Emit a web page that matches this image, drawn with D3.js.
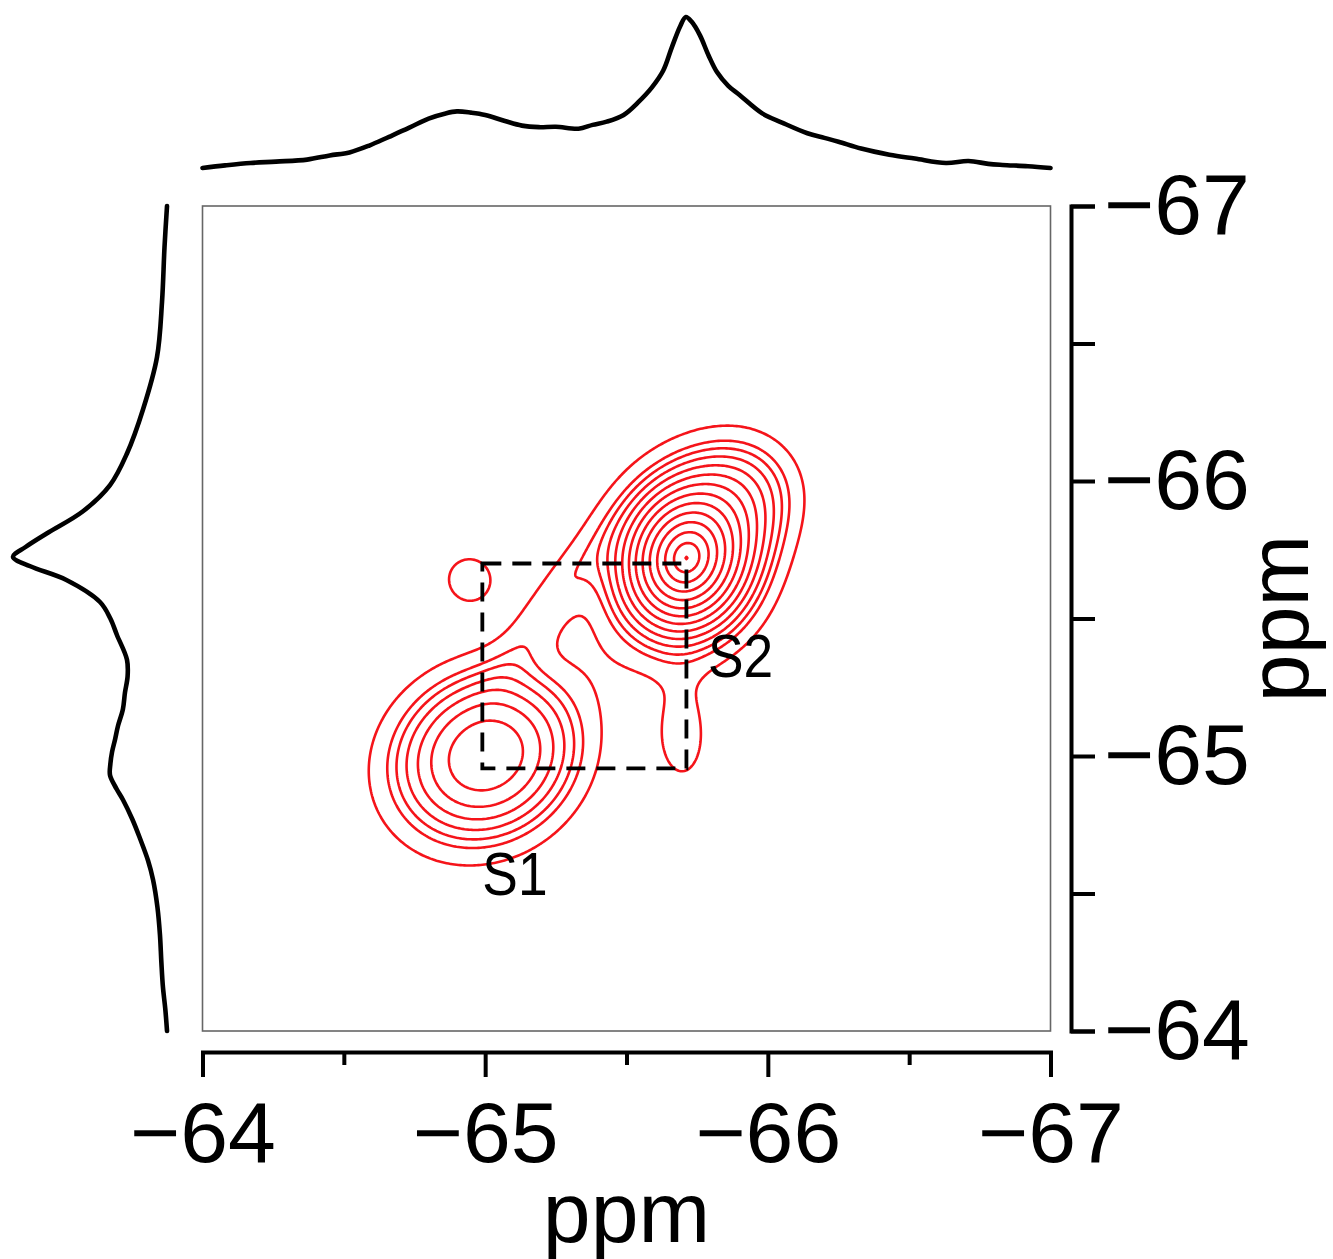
<!DOCTYPE html>
<html><head><meta charset="utf-8">
<script src="https://cdn.jsdelivr.net/npm/d3@7"></script>
<style>
body{margin:0;background:#fff}
svg{display:block;background:#fff}
</style>
</head><body>
<svg id="chart" width="1333" height="1259"></svg>
<script>
// ---------------- data ----------------
const xMajorTicks = [-64, -65, -66, -67];
const xMinorTicks = [-64.5, -65.5, -66.5];
const yMajorTicks = [-67, -66, -65, -64];
const yMinorTicks = [-66.5, -65.5, -64.5];
const axisTitle = "ppm";

// top (horizontal) 1D projection
const topPpm = [-64.00,-64.08,-64.17,-64.26,-64.37,-64.45,-64.52,-64.59,-64.66,-64.73,-64.80,-64.86,-64.90,-64.95,-65.00,-65.07,-65.13,-65.19,-65.25,-65.33,-65.38,-65.43,-65.49,-65.54,-65.59,-65.63,-65.66,-65.69,-65.71,-65.73,-65.76,-65.79,-65.82,-65.86,-65.90,-65.98,-66.05,-66.14,-66.20,-66.25,-66.33,-66.43,-66.52,-66.63,-66.71,-66.78,-66.83,-66.92,-67.00];
const topInt = [1.3,3.0,4.6,5.5,6.8,9.5,11.5,16,21.7,27.5,33.6,37,38.3,37.5,36,32,29,28,28.3,27,29.5,31.6,36,44,54,65,80,94,100,97,88,75,64,55,49,37,31,24,21,18.5,14,10,7.5,4.6,5.9,4,3.3,2.5,1.3];

// left (vertical) 1D projection
const leftPpm = [-67.00,-66.85,-66.65,-66.45,-66.26,-66.10,-65.985,-65.89,-65.81,-65.76,-65.724,-65.69,-65.64,-65.56,-65.50,-65.44,-65.35,-65.29,-65.23,-65.17,-65.11,-65.06,-65.015,-64.97,-64.93,-64.88,-64.84,-64.77,-64.70,-64.62,-64.55,-64.45,-64.35,-64.25,-64.16,-64.08,-64.00];
const leftInt = [1.9,3.5,5.1,8.3,17.2,27.4,38.2,55.4,78.3,92,100,89,66,44.6,38,33.8,27.4,27,28.7,30,33.1,35,36.9,38,38.2,34,29.9,24,19.1,14,10.8,8,6.4,5.5,4.5,3,1.9];

const peakNames = ["S1", "S1 pedestal", "S2", "S2 shoulder", "bridge", "island", "lower lobe"];
const peakX     = [-65.010, -64.893, -65.712, -65.930, -65.229, -64.943, -65.700];
const peakY     = [-65.007, -64.895, -65.720, -65.985, -65.567, -65.647, -65.051];
const peakWu    = [0.234, 0.320, 0.114, 0.160, 0.195, 0.082, 0.138];
const peakWv    = [0.205, 0.320, 0.094, 0.160, 0.066, 0.082, 0.074];
const peakAngle = [35, 0, 75, 0, 57, 0, 90];
const peakShape = [2, 2, 1.25, 2, 2, 2, 2];
const peakAmp   = [3.12, 0.42, 10.7, 1.0, 0.80, 1.08, 0.97];
const contourLevels = [0.8, 1.2, 1.44, 1.728, 2.074, 2.488, 2.986, 3.583, 4.3, 5.16, 6.19, 7.43, 8.92, 10.7];

// dashed correlation box and site labels
const boxX = [-64.99, -65.712];
const boxY = [-64.955, -65.70];
const siteNames = ["S1", "S2"];
const siteX = [-64.99, -65.788];
const siteY = [-64.495, -65.287];

// ---------------- drawing ----------------
const svg = d3.select("#chart");
const FONT = "'Liberation Sans', Arial, sans-serif";

const x = d3.scaleLinear().domain([-64, -67]).range([202.5, 1050.5]);
const y = d3.scaleLinear().domain([-67, -64]).range([206, 1031]);

// plot frame
svg.append("rect")
  .attr("x", x(-64)).attr("y", y(-67))
  .attr("width", x(-67) - x(-64)).attr("height", y(-64) - y(-67))
  .attr("fill", "none").attr("stroke", "#666").attr("stroke-width", 1.6);

// contour field
function intensity(px, py) {
  let s = 0;
  for (let k = 0; k < peakX.length; k++) {
    const ex = peakX[k] - px;        // positive to the right on screen
    const ey = peakY[k] - py;        // positive upward on screen
    const t = peakAngle[k] * Math.PI / 180;
    const u = (ex * Math.cos(t) + ey * Math.sin(t)) / peakWu[k];
    const v = (-ex * Math.sin(t) + ey * Math.cos(t)) / peakWv[k];
    const q = u * u + v * v;
    s += peakAmp[k] * Math.exp(-0.5 * Math.pow(q, peakShape[k] / 2));
  }
  return s;
}
const step = 2;
const gx0 = x(-64), gy0 = y(-67);
const nx = Math.ceil((x(-67) - gx0) / step) + 1;
const ny = Math.ceil((y(-64) - gy0) / step) + 1;
const values = new Float64Array(nx * ny);
for (let j = 0; j < ny; j++) {
  for (let i = 0; i < nx; i++) {
    values[i + j * nx] = intensity(x.invert(gx0 + i * step), y.invert(gy0 + j * step));
  }
}
const contours = d3.contours().size([nx, ny]).thresholds(contourLevels)(values);
const proj = d3.geoTransform({
  point(px, py) { this.stream.point(gx0 + (px - 0.5) * step, gy0 + (py - 0.5) * step); }
});
const cpath = d3.geoPath(proj);
svg.append("g")
  .selectAll("path").data(contours).join("path")
  .attr("d", cpath)
  .attr("fill", "none")
  .attr("stroke", "#f5141a")
  .attr("stroke-width", 2.6)
  .attr("stroke-linejoin", "round");

// dashed box
svg.append("rect")
  .attr("x", x(boxX[0])).attr("y", y(boxY[1]))
  .attr("width", x(boxX[1]) - x(boxX[0])).attr("height", y(boxY[0]) - y(boxY[1]))
  .attr("fill", "none").attr("stroke", "#000").attr("stroke-width", 3.8)
  .attr("stroke-dasharray", "19,11");

// site labels
svg.append("g").selectAll("text").data(siteNames).join("text")
  .attr("transform", (d, i) => `translate(${x(siteX[i])},${y(siteY[i])}) scale(0.86,1)`)
  .attr("font-family", FONT).attr("font-size", 62).attr("fill", "#000")
  .text(d => d);

// top projection
const topScale = d3.scaleLinear().domain([0, 100]).range([170, 17]);
svg.append("path")
  .datum(topPpm.map((p, i) => [p, topInt[i]]))
  .attr("d", d3.line().x(d => x(d[0])).y(d => topScale(d[1])).curve(d3.curveCatmullRom))
  .attr("fill", "none").attr("stroke", "#000").attr("stroke-width", 4.6)
  .attr("stroke-linejoin", "round").attr("stroke-linecap", "round");

// left projection
const leftScale = d3.scaleLinear().domain([0, 100]).range([170, 13]);
svg.append("path")
  .datum(leftPpm.map((p, i) => [p, leftInt[i]]))
  .attr("d", d3.line().x(d => leftScale(d[1])).y(d => y(d[0])).curve(d3.curveCatmullRom))
  .attr("fill", "none").attr("stroke", "#000").attr("stroke-width", 4.6)
  .attr("stroke-linejoin", "round").attr("stroke-linecap", "round");

// axes
const fmt = d3.format("d");
const bottomY = 1052;
const gxMinor = svg.append("g").attr("transform", `translate(0,${bottomY})`)
  .call(d3.axisBottom(x).tickValues(xMinorTicks).tickSize(13).tickSizeOuter(0).tickFormat(""));
const gx = svg.append("g").attr("transform", `translate(0,${bottomY})`)
  .call(d3.axisBottom(x).tickValues(xMajorTicks).tickSize(25).tickSizeOuter(25).tickPadding(24).tickFormat(fmt));

const rightX = 1071;
const gyMinor = svg.append("g").attr("transform", `translate(${rightX},0)`)
  .call(d3.axisRight(y).tickValues(yMinorTicks).tickSize(24).tickSizeOuter(0).tickFormat(""));
const gy = svg.append("g").attr("transform", `translate(${rightX},0)`)
  .call(d3.axisRight(y).tickValues(yMajorTicks).tickSize(24).tickSizeOuter(24).tickPadding(9).tickFormat(fmt));

[gx, gy, gxMinor, gyMinor].forEach(g => {
  g.select(".domain").attr("stroke", "#000").attr("stroke-width", 4).attr("stroke-linejoin", "miter");
  g.selectAll(".tick line").attr("stroke", "#000").attr("stroke-width", 4);
  g.selectAll(".tick text").attr("font-family", FONT).attr("font-size", 86).attr("fill", "#000");
});
gxMinor.select(".domain").remove();
gyMinor.select(".domain").remove();

// axis titles
svg.append("text")
  .attr("x", (x(-64) + x(-67)) / 2).attr("y", 1242)
  .attr("text-anchor", "middle").attr("font-family", FONT).attr("font-size", 86).attr("fill", "#000")
  .text(axisTitle);
svg.append("text")
  .attr("transform", `translate(1308,${(y(-67) + y(-64)) / 2}) rotate(-90)`)
  .attr("text-anchor", "middle").attr("font-family", FONT).attr("font-size", 86).attr("fill", "#000")
  .text(axisTitle);
</script>
</body></html>
